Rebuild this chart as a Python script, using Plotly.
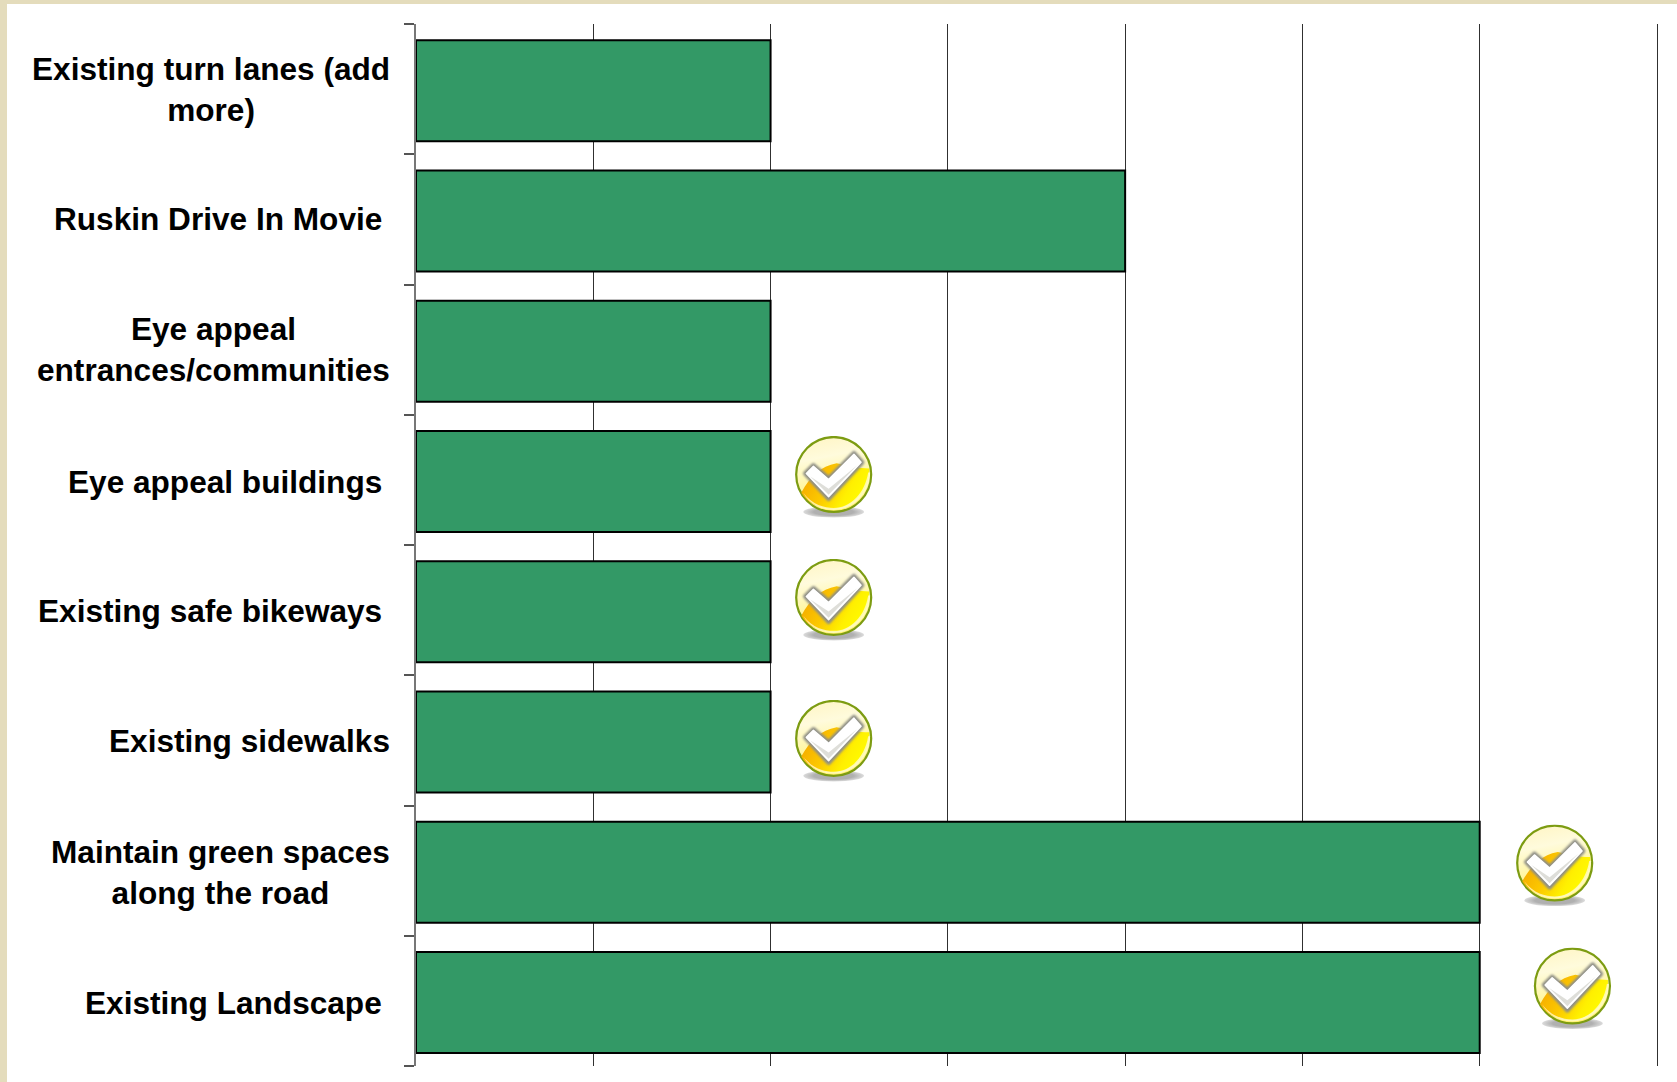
import base64
import plotly.graph_objects as go

categories = [
    "Existing turn lanes (add<br>more)",
    "Ruskin Drive In Movie",
    "Eye appeal<br>entrances/communities",
    "Eye appeal buildings",
    "Existing safe bikeways",
    "Existing sidewalks",
    "Maintain green spaces<br>along the road",
    "Existing Landscape",
]
values = [2, 4, 2, 2, 2, 2, 6, 6]
label_right_px = [392, 384, 392, 384, 384, 392, 392, 384]
label_drop_px = [0, 0, 0, 2, 1, 1, 2, 2]
icon_x = [2.356, 2.356, 2.356, 6.423, 6.523]
icon_y = [2.982, 3.926, 5.008, 5.965, 6.909]

W, H = 1677, 1082
L, T, R, B = 416, 24, 18, 16
BEIGE = "#e4dcbc"

svg = """<svg xmlns="http://www.w3.org/2000/svg" width="234" height="246" viewBox="0 0 78 82">
<defs>
<linearGradient id="g" x1="0.4" y1="0" x2="0.6" y2="1">
<stop offset="0" stop-color="#fff6c8"/><stop offset="0.25" stop-color="#fffbdc"/>
<stop offset="0.6" stop-color="#fff6a0"/><stop offset="1" stop-color="#fff060"/></linearGradient>
<linearGradient id="o" x1="0" y1="0.3" x2="1" y2="0.7">
<stop offset="0" stop-color="#f4a800"/><stop offset="0.4" stop-color="#fcc800"/>
<stop offset="0.7" stop-color="#fff000"/><stop offset="1" stop-color="#ffff00"/></linearGradient>
<radialGradient id="s"><stop offset="0.65" stop-color="#b0b0b0"/><stop offset="1" stop-color="#dcdcdc"/></radialGradient>
<filter id="b" x="-20%" y="-20%" width="140%" height="140%"><feGaussianBlur stdDeviation="0.9"/></filter>
</defs>
<ellipse cx="39" cy="75" rx="30" ry="5.5" fill="url(#s)"/>
<circle cx="39" cy="38" r="37" fill="url(#g)" stroke="#7d9c12" stroke-width="2.2"/>
<path d="M7 56 C16 40 26 30 42 27 C54 30 64 32 74 32 C75 52 60 70 39 72 C25 72 13 66 7 56 Z" fill="url(#o)"/>
<path d="M9 56 C18 68 30 71 39 71 C56 71 70 56 73 36 L75 36 C74 58 58 73 39 73 C26 73 15 67 9 56 Z" fill="#fffbd0" opacity="0.8"/>
<path d="M11 37 L19 29 L34 42 L59 17 L67 26 L34 62 Z" fill="#8f8f86" stroke="#8f8f86" stroke-width="4.5" stroke-linejoin="round" filter="url(#b)"/>
<path d="M12 37 L19 30 L34 43 L59 18 L66 26 L34 60 Z" fill="#ffffff" stroke="#ffffff" stroke-width="1.5" stroke-linejoin="round"/>
<path d="M16 40 L34 58 L62 29 L34 52 Z" fill="#d6d6d0" opacity="0.8"/>
</svg>"""
icon_src = "data:image/svg+xml;base64," + base64.b64encode(svg.encode()).decode()

fig = go.Figure(
    go.Bar(
        x=values,
        y=list(range(len(categories))),
        orientation="h",
        width=0.775,
        offset=-0.375,
        marker=dict(color="#339966", line=dict(color="#000000", width=2)),
    )
)

for i, (cat, right, drop) in enumerate(zip(categories, label_right_px, label_drop_px)):
    fig.add_annotation(
        x=0, xref="paper", y=i, yref="y", text=f"<b>{cat}</b>", showarrow=False,
        xanchor="right", yanchor="middle", align="center", xshift=right - L, yshift=-drop,
        font=dict(family="Liberation Sans, Arial, sans-serif", size=31.6, color="#000000"),
    )

for x, y in zip(icon_x, icon_y):
    fig.add_layout_image(
        source=icon_src, xref="x", yref="y", x=x, y=y,
        sizex=79 / 177.2, sizey=83 / 130.25,
        xanchor="center", yanchor="middle", sizing="stretch", layer="above",
    )

plot_w = W - L - R
plot_h = H - T - B
fig.update_layout(
    width=W, height=H, margin=dict(l=L, r=R, t=T, b=B, pad=0),
    paper_bgcolor="#ffffff", plot_bgcolor="#ffffff",
    showlegend=False,
    shapes=[
        dict(type="rect", xref="paper", yref="paper", layer="below", line_width=0, fillcolor=BEIGE,
             x0=-L / plot_w, x1=(W - L) / plot_w, y0=1 + (T - 4) / plot_h, y1=1 + T / plot_h),
        dict(type="rect", xref="paper", yref="paper", layer="below", line_width=0, fillcolor=BEIGE,
             x0=-L / plot_w, x1=(7 - L) / plot_w, y0=-B / plot_h, y1=1 + T / plot_h),
    ],
    xaxis=dict(range=[0, 7.0113], dtick=1, tick0=0, showgrid=True, gridcolor="#303030", gridwidth=1,
               showticklabels=False, ticks="", zeroline=False, showline=False),
    yaxis=dict(range=[7.5, -0.5], tickmode="array", tickvals=[i - 0.5 for i in range(9)],
               showticklabels=False, ticks="outside", ticklen=10, tickwidth=1.5, tickcolor="#555555",
               showgrid=False, zeroline=False, showline=True, linecolor="#777777", linewidth=2),
)

fig.write_html("out.html", config={"displayModeBar": False},
               post_script="document.body.style.margin='0';document.body.style.background='#ffffff';")
